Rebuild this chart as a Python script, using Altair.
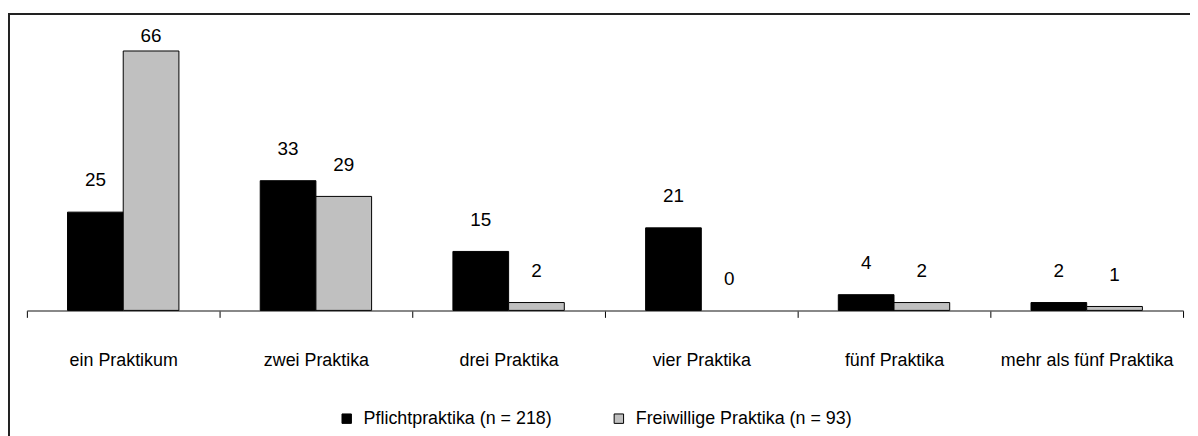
import altair as alt
import pandas as pd

categories = ["ein Praktikum", "zwei Praktika", "drei Praktika",
              "vier Praktika", "fünf Praktika", "mehr als fünf Praktika"]
series_names = ["Pflichtpraktika (n = 218)", "Freiwillige Praktika (n = 93)"]
pflicht = [25, 33, 15, 21, 4, 2]
freiwillig = [66, 29, 2, 0, 2, 1]
series_colors = ["#000000", "#c0c0c0"]

rows = []
for i, c in enumerate(categories):
    rows.append({"kat": c, "serie": series_names[0], "wert": pflicht[i]})
    rows.append({"kat": c, "serie": series_names[1], "wert": freiwillig[i]})
df = pd.DataFrame(rows)

FONT = "Liberation Sans Narrow, Arial Narrow, Liberation Sans, sans-serif"

x_enc = alt.X(
    "kat:N", sort=categories,
    scale=alt.Scale(paddingInner=0, paddingOuter=0),
    axis=alt.Axis(title=None, labelAngle=0, labelFont=FONT, labelFontSize=18,
                  labelColor="black", labelLimit=0, tickBand="extent",
                  tickSize=7, tickColor="black", tickWidth=1,
                  domainColor="#606060", domainWidth=1.5, labelPadding=43,
                  labelBaseline="middle"),
)
xo_enc = alt.XOffset("serie:N", sort=series_names,
                     scale=alt.Scale(paddingOuter=0.73, paddingInner=0))

base = alt.Chart(df)

bars = base.mark_bar(stroke="black").encode(
    x=x_enc,
    xOffset=xo_enc,
    y=alt.Y("wert:Q", scale=alt.Scale(domain=[0, 70]), axis=None),
    strokeWidth=alt.condition(alt.datum.wert > 0, alt.value(1), alt.value(0)),
    color=alt.Color(
        "serie:N", sort=series_names,
        scale=alt.Scale(domain=series_names, range=series_colors),
        legend=alt.Legend(title=None, orient="none", legendX=313, legendY=377,
                          direction="horizontal", symbolType="square",
                          symbolSize=90, symbolStrokeColor="black",
                          symbolStrokeWidth=1, labelFont=FONT,
                          labelFontSize=18, labelColor="black", labelLimit=0,
                          columnPadding=58, labelOffset=8),
    ),
)

labels = base.transform_calculate(
    ly="min(datum.wert + 8.1, 69.8)"
).mark_text(font=FONT, fontSize=19, baseline="middle", color="black").encode(
    x=alt.X("kat:N", sort=categories),
    xOffset=alt.XOffset("serie:N", sort=series_names),
    y=alt.Y("ly:Q"),
    text=alt.Text("wert:Q"),
)

dummy = alt.Chart(pd.DataFrame({"a": [0]}))
frame_left = dummy.mark_rule(color="#222222", strokeWidth=2).encode(
    x=alt.value(-18), y=alt.value(-21.5), y2=alt.value(420))
frame_top = dummy.mark_rule(color="#222222", strokeWidth=2).encode(
    x=alt.value(-19), x2=alt.value(1200), y=alt.value(-21.5))

chart = alt.layer(bars, labels, frame_left, frame_top).properties(
    width=1164, height=277,
    autosize=alt.AutoSizeParams(type="none"),
    padding={"left": 19, "top": 26, "right": 7, "bottom": 125},
).configure_view(stroke=None)

chart.save("out.html", embed_options={"renderer": "svg", "actions": False})
